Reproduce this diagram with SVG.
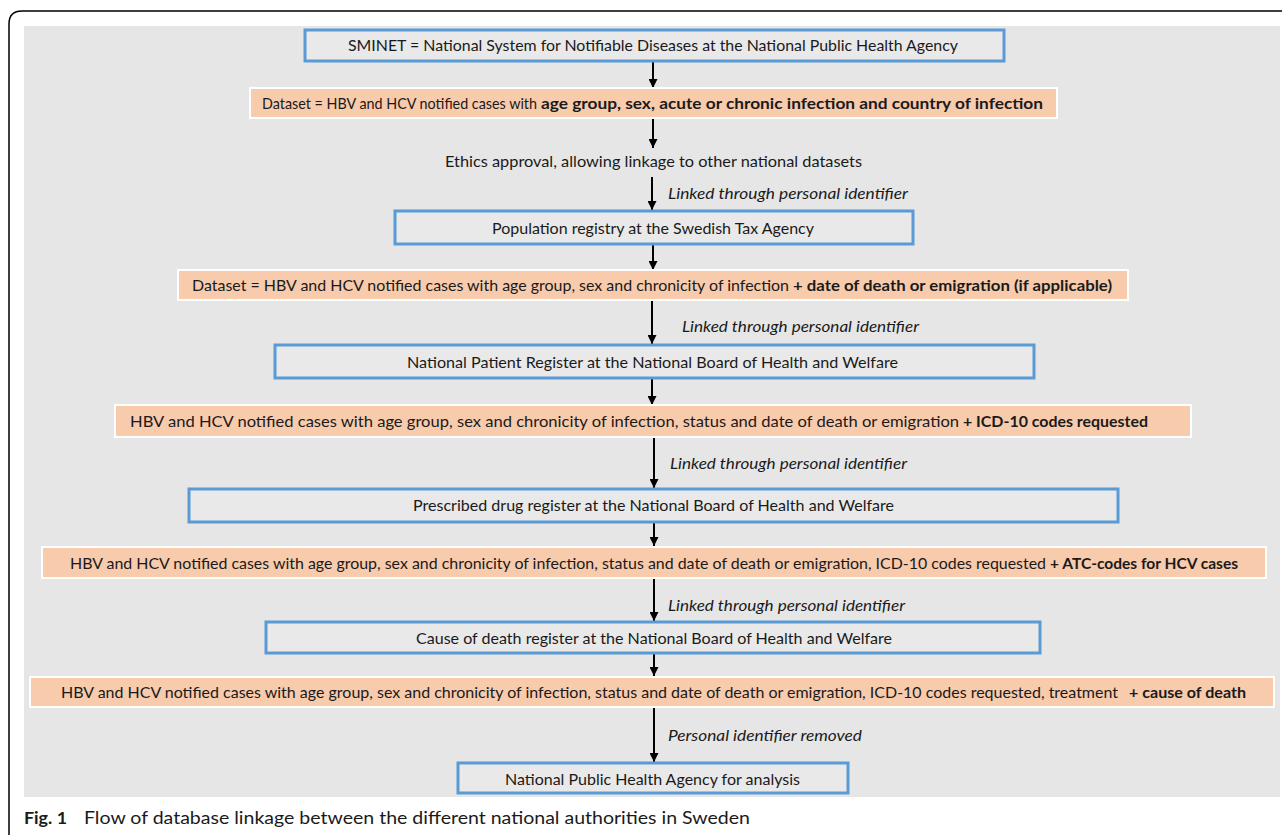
<svg xmlns="http://www.w3.org/2000/svg" width="1282" height="835" viewBox="0 0 1282 835">
<style>
.t{font-family:Lato,"Open Sans","Liberation Sans",sans-serif;font-size:15px;fill:#1a1a1a;dominant-baseline:central}
.b{font-weight:bold}
.i{font-style:italic}
.blue{fill:#e9e9e9;stroke:#5b9bd5;stroke-width:3}
.org{fill:#f8cbad;stroke:#ffffff;stroke-width:2}
.arr{stroke:#000;stroke-width:2;fill:none;marker-end:url(#ah)}
.cap{font-family:Lato,"Open Sans","Liberation Sans",sans-serif;font-size:17px;fill:#1a1a1a}
</style>
<defs>
<marker id="ah" viewBox="0 0 10 10" refX="10" refY="5" markerWidth="4.5" markerHeight="4.5" orient="auto" markerUnits="strokeWidth">
<path d="M0,0 L10,5 L0,10 z" fill="#000"/>
</marker>
</defs>
<rect width="1282" height="835" fill="#ffffff"/>
<path d="M9,835 L9,24 Q9,11 22,11 L1282,11" fill="none" stroke="#000" stroke-width="1.5"/>
<rect x="24" y="26" width="1256" height="771" fill="#e6e6e6"/>

<g id="connectors">
<line class="arr" x1="653" y1="62" x2="653" y2="88"/>
<line class="arr" x1="653" y1="119" x2="653" y2="148"/>
<line class="arr" x1="652" y1="177" x2="652" y2="210"/>
<line class="arr" x1="653" y1="245" x2="653" y2="270"/>
<line class="arr" x1="652" y1="301" x2="652" y2="344"/>
<line class="arr" x1="652" y1="379" x2="652" y2="405"/>
<line class="arr" x1="654" y1="438" x2="654" y2="488"/>
<line class="arr" x1="654" y1="523" x2="654" y2="546"/>
<line class="arr" x1="654" y1="579" x2="654" y2="621"/>
<line class="arr" x1="654" y1="654" x2="654" y2="676"/>
<line class="arr" x1="654" y1="708" x2="654" y2="762"/>
<text class="t i" x="668" y="193" textLength="240" lengthAdjust="spacingAndGlyphs">Linked through personal identifier</text>
<text class="t i" x="682" y="326" textLength="237" lengthAdjust="spacingAndGlyphs">Linked through personal identifier</text>
<text class="t i" x="670" y="463" textLength="237" lengthAdjust="spacingAndGlyphs">Linked through personal identifier</text>
<text class="t i" x="668" y="605" textLength="237" lengthAdjust="spacingAndGlyphs">Linked through personal identifier</text>
<text class="t i" x="668" y="735" textLength="194" lengthAdjust="spacingAndGlyphs">Personal identifier removed</text>
</g>

<g id="n1">
<rect class="blue" x="305" y="30" width="699" height="31"/>
<text class="t" x="348" y="45" textLength="610" lengthAdjust="spacingAndGlyphs">SMINET = National System for Notifiable Diseases at the National Public Health Agency</text>
</g>
<g id="n2">
<rect class="org" x="250" y="88" width="807" height="30"/>
<text class="t" x="262" y="103" textLength="275" lengthAdjust="spacingAndGlyphs">Dataset = HBV and HCV notified cases with</text>
<text class="t b" x="541" y="103" textLength="502" lengthAdjust="spacingAndGlyphs">age group, sex, acute or chronic infection and country of infection</text>
</g>
<g id="n3">
<text class="t" x="445" y="161" textLength="417" lengthAdjust="spacingAndGlyphs">Ethics approval, allowing linkage to other national datasets</text>
</g>
<g id="n4">
<rect class="blue" x="395" y="211" width="518" height="33"/>
<text class="t" x="492" y="228" textLength="322" lengthAdjust="spacingAndGlyphs">Population registry at the Swedish Tax Agency</text>
</g>
<g id="n5">
<rect class="org" x="178" y="270" width="950" height="30"/>
<text class="t" x="192" y="285" textLength="597" lengthAdjust="spacingAndGlyphs">Dataset = HBV and HCV notified cases with age group, sex and chronicity of infection</text>
<text class="t b" x="793" y="285" textLength="319" lengthAdjust="spacingAndGlyphs">+ date of death or emigration (if applicable)</text>
</g>
<g id="n6">
<rect class="blue" x="275" y="345" width="759" height="33"/>
<text class="t" x="407" y="362" textLength="491" lengthAdjust="spacingAndGlyphs">National Patient Register  at the National Board of Health and Welfare</text>
</g>
<g id="n7">
<rect class="org" x="115" y="405" width="1076" height="32"/>
<text class="t" x="130" y="421" textLength="829" lengthAdjust="spacingAndGlyphs">HBV and HCV notified cases with age group, sex and chronicity of infection, status and date of death or emigration</text>
<text class="t b" x="963" y="421" textLength="185" lengthAdjust="spacingAndGlyphs">+ ICD-10 codes requested</text>
</g>
<g id="n8">
<rect class="blue" x="189" y="489" width="929" height="33"/>
<text class="t" x="413" y="505" textLength="481" lengthAdjust="spacingAndGlyphs">Prescribed drug register at the National Board of Health and Welfare</text>
</g>
<g id="n9">
<rect class="org" x="42" y="547" width="1224" height="31"/>
<text class="t" x="70" y="563" textLength="976" lengthAdjust="spacingAndGlyphs">HBV and HCV notified cases with age group, sex and chronicity of infection, status and date of death or emigration, ICD-10 codes requested</text>
<text class="t b" x="1050" y="563" textLength="188" lengthAdjust="spacingAndGlyphs">+ ATC-codes for HCV cases</text>
</g>
<g id="n10">
<rect class="blue" x="266" y="622" width="774" height="31"/>
<text class="t" x="416" y="638" textLength="476" lengthAdjust="spacingAndGlyphs">Cause of death register at the National Board of Health and Welfare</text>
</g>
<g id="n11">
<rect class="org" x="30" y="677" width="1244" height="30"/>
<text class="t" x="61" y="692" textLength="1057" lengthAdjust="spacingAndGlyphs">HBV and HCV notified cases with age group, sex and chronicity of infection, status and date of death or emigration, ICD-10 codes requested, treatment</text>
<text class="t b" x="1129" y="692" textLength="117" lengthAdjust="spacingAndGlyphs">+ cause of death</text>
</g>
<g id="n12">
<rect class="blue" x="458" y="763" width="390" height="30"/>
<text class="t" x="505" y="779" textLength="295" lengthAdjust="spacingAndGlyphs">National Public Health Agency for analysis</text>
</g>

<g id="caption">
<text class="cap" x="24" y="824"><tspan font-weight="bold" textLength="43" lengthAdjust="spacingAndGlyphs">Fig. 1</tspan></text>
<text class="cap" x="84" y="824" textLength="666" lengthAdjust="spacingAndGlyphs">Flow of database linkage between the different national authorities in Sweden</text>
</g>
</svg>
